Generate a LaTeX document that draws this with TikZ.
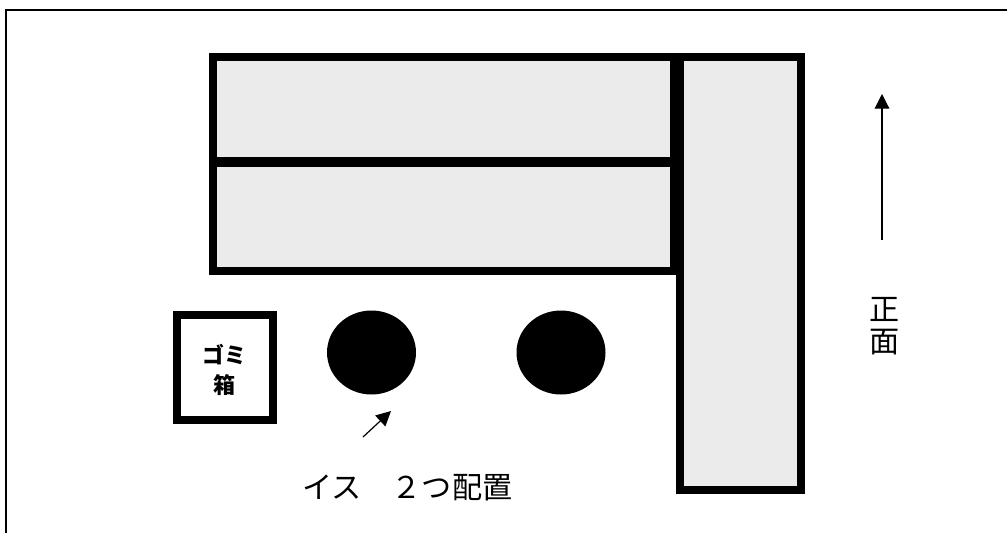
\documentclass[tikz,border=0pt]{standalone}
\usepackage{fontspec}
\usetikzlibrary{arrows.meta}
\newfontfamily\cjk{Noto Sans CJK JP}
\tikzset{
bench/.style={draw,line width=6pt,fill=black!8,line join=miter},
bin/.style={draw,line width=6pt,fill=white},
chair/.style={fill=black},
lab/.style={font=\cjk\fontsize{22.6}{23.5}\selectfont,inner sep=0pt},
}
\begin{document}
\begin{tikzpicture}[>={Triangle[width=11pt,length=11pt]},x=.75pt,y=-.75pt]
\useasboundingbox (0,0) rectangle (1007,533);
\draw[line width=1.4pt] (6,533)--(6,10)--(1007,10);
\path[bench] (213,57) rectangle (674,161);
\path[bench] (213,163) rectangle (674,271);
\path[bench] (680,57) rectangle (801,490);
\path[bin] (177,315) rectangle (273,420);
\fill[chair] (371.5,352.5) ellipse (44.5 and 42);
\fill[chair] (561,352.5) ellipse (44.5 and 42);
\node[font=\cjk\bfseries\fontsize{16.5}{23}\selectfont,align=center,inner sep=0pt] (gomi) at (224,370) {ゴミ\\箱};
\coordinate (c1) at (363,437);
\coordinate (c2) at (391,411);
\draw[->,line width=.9pt] (c1)--(c2);
\node[lab,anchor=west] (isu) at (302,488) {イス　２つ配置};
\coordinate (f1) at (882,240);
\coordinate (f2) at (882,94);
\draw[->,line width=.9pt] (f1)--(f2);
\node[lab,align=center] (shomen) at (885,326) {正\\面};
\end{tikzpicture}
\end{document}
